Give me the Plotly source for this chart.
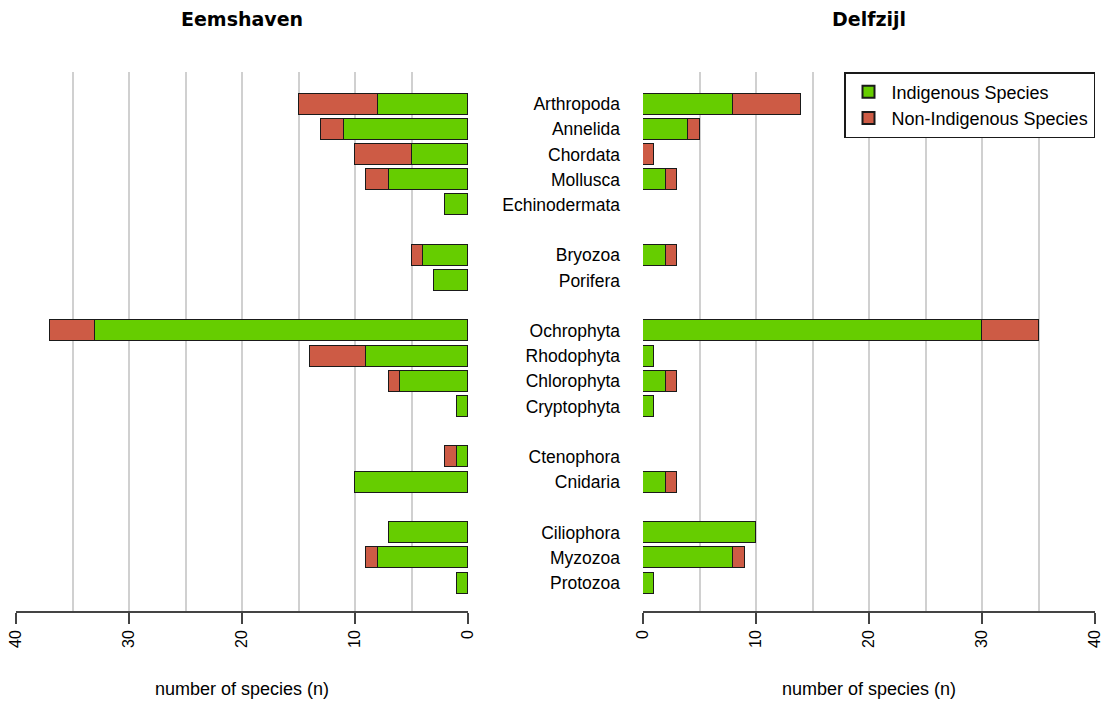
import plotly.graph_objects as go

categories = ["Arthropoda", "Annelida", "Chordata", "Mollusca", "Echinodermata",
              "Bryozoa", "Porifera",
              "Ochrophyta", "Rhodophyta", "Chlorophyta", "Cryptophyta",
              "Ctenophora", "Cnidaria",
              "Ciliophora", "Myzozoa", "Protozoa"]
groups = [0, 0, 0, 0, 0, 1, 1, 2, 2, 2, 2, 3, 3, 4, 4, 4]

eems_indigenous = [8, 11, 5, 7, 2, 4, 3, 33, 9, 6, 1, 1, 10, 7, 8, 1]
eems_nonindigenous = [7, 2, 5, 2, 0, 1, 0, 4, 5, 1, 0, 1, 0, 0, 1, 0]
delf_indigenous = [8, 4, 0, 2, 0, 2, 0, 30, 1, 2, 1, 0, 2, 10, 8, 1]
delf_nonindigenous = [6, 1, 1, 1, 0, 1, 0, 5, 0, 1, 0, 0, 1, 0, 1, 0]

series_names = ["Indigenous Species", "Non-Indigenous Species"]
colors = ["#66CD00", "#CD5B45"]
x_ticks = [0, 10, 20, 30, 40]

positions = [i + g for i, g in enumerate(groups)]

W, H = 1107, 702
ml, mr, mt, mb = 16, 12, 72, 91
pw = W - ml - mr
ph = H - mt - mb
left_dom = [0, (468 - ml) / pw]
right_dom = [(643 - ml) / pw, 1]

fig = go.Figure()
line = dict(color="#1a1a1a", width=1.5)
bw = 1 / 1.2

for vals, name, col in zip([eems_indigenous, eems_nonindigenous], series_names, colors):
    fig.add_trace(go.Bar(y=positions, x=vals, orientation="h", name=name,
                         marker=dict(color=col, line=line), width=bw,
                         xaxis="x", yaxis="y", showlegend=True, legendgroup=name))
for vals, name, col in zip([delf_indigenous, delf_nonindigenous], series_names, colors):
    fig.add_trace(go.Bar(y=positions, x=vals, orientation="h", name=name,
                         marker=dict(color=col, line=line), width=bw,
                         xaxis="x2", yaxis="y2", showlegend=False, legendgroup=name))

top = positions[0] - 1.27
bottom = positions[-1] + 1.11

xcommon = dict(tickvals=x_ticks, ticktext=[str(t) for t in x_ticks], tickangle=-90,
               showgrid=True, gridcolor="#d0d0d0", gridwidth=1.5,
               minor=dict(dtick=5, showgrid=True, gridcolor="#d0d0d0", gridwidth=1.5, ticklen=0),
               showline=True, linecolor="#444444", linewidth=1.5,
               ticks="outside", ticklen=11, tickcolor="#444444", tickwidth=1.5,
               tickfont=dict(family="Liberation Sans, Arial", size=16, color="#000000"),
               zeroline=False, fixedrange=True, automargin=False)

fig.update_layout(
    width=W, height=H,
    margin=dict(l=ml, r=mr, t=mt, b=mb, autoexpand=False),
    paper_bgcolor="white", plot_bgcolor="white",
    barmode="stack", bargap=0,
    font=dict(family="Liberation Sans, Arial", color="#000000"),
    xaxis=dict(domain=left_dom, range=[40, 0], anchor="y", **xcommon),
    xaxis2=dict(domain=right_dom, range=[0, 40], anchor="y2", **xcommon),
    yaxis=dict(range=[bottom, top], showticklabels=False, showgrid=False,
               zeroline=False, showline=False, anchor="x", automargin=False),
    yaxis2=dict(range=[bottom, top], tickvals=positions, ticktext=categories,
                showgrid=False, zeroline=False, showline=False, anchor="x2",
                ticklabelstandoff=22, automargin=False,
                tickfont=dict(family="Liberation Sans, Arial", size=17.5, color="#000000")),
    legend=dict(x=1, xanchor="right", y=1, yanchor="top", traceorder="normal",
                bgcolor="white", bordercolor="#1a1a1a", borderwidth=1.5,
                font=dict(family="Liberation Sans, Arial", size=18, color="#000000"),
                itemsizing="constant", itemwidth=36),
    showlegend=True,
)

title_y = 1 + (mt - 19) / ph
axis_title_y = -(689 - (mt + ph)) / ph
for dom, title in zip([left_dom, right_dom], ["Eemshaven", "Delfzijl"]):
    cx = (dom[0] + dom[1]) / 2
    fig.add_annotation(x=cx, y=title_y, xref="paper", yref="paper", text="<b>" + title + "</b>",
                       showarrow=False, xanchor="center", yanchor="middle",
                       font=dict(family="DejaVu Sans, Verdana", size=19, color="#000000"))
    fig.add_annotation(x=cx, y=axis_title_y, xref="paper", yref="paper",
                       text="number of species (n)", showarrow=False,
                       xanchor="center", yanchor="middle",
                       font=dict(family="Liberation Sans Narrow, Liberation Sans, Arial", size=18, color="#000000"))

fig.write_html("out.html", config={"displayModeBar": False},
               post_script="document.body.style.margin='0px';document.body.style.overflow='hidden';")
